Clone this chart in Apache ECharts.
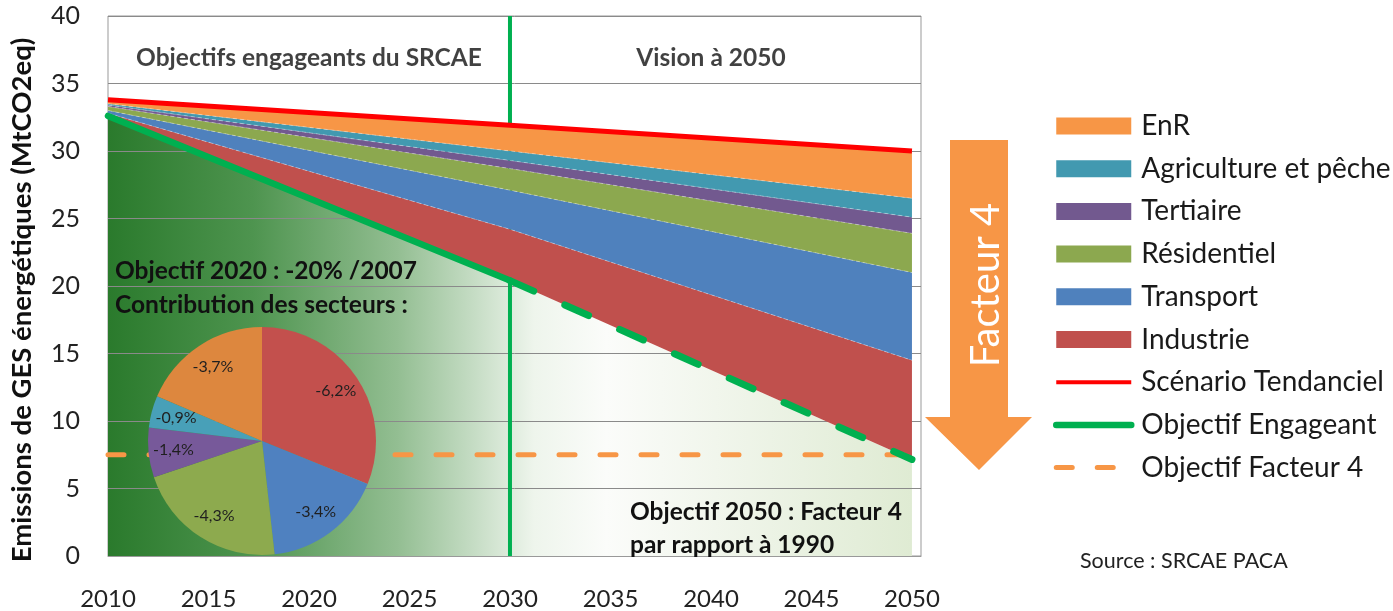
<!DOCTYPE html>
<html><head><meta charset="utf-8">
<script src="https://cdn.jsdelivr.net/npm/echarts@6/dist/echarts.min.js"></script>
<style>html,body{margin:0;padding:0;background:#fff}#c{width:1393px;height:611px}</style>
</head><body><div id="c"></div>
<script>
// ---- data ----
const years = [2010, 2030, 2050];
const objectif = [32.6, 20.4, 7.15];      // Objectif Engageant
const industrie = [0.2, 3.8, 7.35];
const transport = [0.2, 2.9, 6.5];
const residentiel = [0.3, 1.6, 2.9];
const tertiaire = [0.1, 0.6, 1.2];
const agriculture = [0.1, 0.7, 1.4];
const enr = [0.3, 1.9, 3.5];
const tendanciel = [33.8, 31.9, 30.0];    // Scénario Tendanciel
const facteur4 = [7.5, 7.5, 7.5];         // Objectif Facteur 4
const milestoneYear = 2030;
const headerNames = ['Objectifs engageants du SRCAE', 'Vision à 2050'];
const headerX = [2020, 2040];
const headerY = 36.9;
const pieNames = ['Industrie', 'Transport', 'Résidentiel', 'Tertiaire', 'Agriculture et pêche', 'EnR'];
const pieContrib = [-6.2, -3.4, -4.3, -1.4, -0.9, -3.7];

const FONT = 'Lato';
const C = {
  enr: '#F79646', agri: '#4299B0', tert: '#72598F', res: '#8CA84F',
  trans: '#4F81BD', ind: '#C0504D', red: '#FF0000', green: '#00B050', orange: '#F79646'
};
const pieColors = ['#C3504D', '#4F81C0', '#8DAA4E', '#77599A', '#48A0B8', '#DD873E'];

const pts = arr => years.map((y, i) => [y, arr[i]]);
// stacked series: value first so that the stack is computed on the y dimension
const stackPts = arr => years.map((y, i) => [arr[i], y]);
const chart = echarts.init(document.getElementById('c'));

function areaSeries(name, arr, color) {
  return {
    name, type: 'line', stack: 'ges', data: stackPts(arr), encode: { x: 1, y: 0 }, symbol: 'none', color,
    lineStyle: { width: 0.8, color: 'rgba(255,255,255,0.45)', type: [4, 3] },
    areaStyle: { color, opacity: 1 }, z: 2, silent: true
  };
}

const legendLine = w => ({ itemStyle: { opacity: 0 }, lineStyle: { width: w } });
const BOLD = { fontFamily: FONT, fontSize: 24.5, fontWeight: 'bold', fill: '#111' };

chart.setOption({
  animation: false,
  grid: { left: 108, right: 472, top: 16, bottom: 52, show: true, borderColor: '#999', borderWidth: 1, backgroundColor: '#fff' },
  xAxis: {
    type: 'value', min: 2010, max: 2050.45, interval: 5, z: 1,
    axisLine: { show: true, lineStyle: { color: '#999', width: 1 } },
    axisTick: { show: false }, splitLine: { show: false },
    axisLabel: { fontFamily: FONT, fontSize: 24, color: '#222', margin: 31, showMaxLabel: false,
      formatter: v => (v % 5 === 0 ? String(v) : '') }
  },
  yAxis: {
    type: 'value', min: 0, max: 40, interval: 5, z: 1,
    name: 'Emissions de GES énergétiques (MtCO2eq)', nameLocation: 'middle', nameGap: 72,
    nameTextStyle: { fontFamily: FONT, fontSize: 27.5, fontWeight: 'bold', color: '#111', padding: [0, 28, 0, 0] },
    axisLine: { show: false }, axisTick: { show: false },
    splitLine: { lineStyle: { color: '#8a8a8a', width: 1 } },
    axisLabel: { fontFamily: FONT, fontSize: 25, color: '#222', margin: 28 }
  },
  legend: {
    orient: 'vertical', left: 1048, top: 106, itemWidth: 75, itemHeight: 17, itemGap: 12.7,
    textStyle: { fontFamily: FONT, fontSize: 28, color: '#1a1a1a', lineHeight: 30, padding: [0, 0, 0, 5] },
    data: [
      { name: 'EnR', icon: 'rect' },
      { name: 'Agriculture et pêche', icon: 'rect' },
      { name: 'Tertiaire', icon: 'rect' },
      { name: 'Résidentiel', icon: 'rect' },
      { name: 'Transport', icon: 'rect' },
      { name: 'Industrie', icon: 'rect' },
      Object.assign({ name: 'Scénario Tendanciel' }, legendLine(4)),
      Object.assign({ name: 'Objectif Engageant' }, legendLine(6.5)),
      Object.assign({ name: 'Objectif Facteur 4' }, legendLine(5))
    ]
  },
  series: [
    {
      name: 'base', type: 'line', stack: 'ges', data: stackPts(objectif), encode: { x: 1, y: 0 },
      symbol: 'none', silent: true, z: 0,
      lineStyle: { width: 0 },
      areaStyle: {
        opacity: 1,
        color: { type: 'linear', x: 0, y: 0, x2: 1, y2: 0, colorStops: [
          { offset: 0, color: '#2a7a2c' }, { offset: 0.18, color: '#4e944f' },
          { offset: 0.36, color: '#93be92' }, { offset: 0.46, color: '#c8dec7' },
          { offset: 0.53, color: '#eef5ec' }, { offset: 0.62, color: '#fbfcfa' },
          { offset: 1, color: '#dfebd3' } ] }
      }
    },
    areaSeries('Industrie', industrie, C.ind),
    areaSeries('Transport', transport, C.trans),
    areaSeries('Résidentiel', residentiel, C.res),
    areaSeries('Tertiaire', tertiaire, C.tert),
    areaSeries('Agriculture et pêche', agriculture, C.agri),
    areaSeries('EnR', enr, C.enr),
    {
      name: 'jalon', type: 'line', data: [[milestoneYear, 0], [milestoneYear, 40]], symbol: 'none', silent: true, z: 1,
      lineStyle: { color: C.green, width: 4 }
    },
    {
      name: 'Objectif Facteur 4', type: 'line', data: pts(facteur4), symbol: 'none', silent: true, z: 2,
      color: C.orange, lineStyle: { color: C.orange, width: 5, type: [16, 25], cap: 'round' }
    },
    {
      name: 'Scénario Tendanciel', type: 'line', data: pts(tendanciel), symbol: 'none', silent: true, z: 4,
      color: C.red, lineStyle: { color: C.red, width: 5 }
    },
    {
      name: 'Objectif Engageant', type: 'line', data: pts(objectif).slice(0, 2), symbol: 'none', silent: true, z: 4,
      color: C.green, lineStyle: { color: C.green, width: 6.5, cap: 'round' }
    },
    {
      name: 'Objectif Engageant', type: 'line', data: pts(objectif).slice(1), symbol: 'none', silent: true, z: 4,
      color: C.green, lineStyle: { color: C.green, width: 7, type: [26, 34], cap: 'round' }
    },
    {
      name: 'headers', type: 'scatter', symbolSize: 0, silent: true, z: 5,
      data: headerNames.map((n, i) => ({ name: n, value: [headerX[i], headerY] })),
      label: { show: true, position: 'inside', formatter: p => p.name,
        fontFamily: FONT, fontSize: 24.5, fontWeight: 'bold', color: '#111' }
    },
    {
      name: 'contrib', type: 'pie', center: [262, 441], radius: 114, startAngle: 90, z: 3, silent: true,
      label: { show: false }, labelLine: { show: false },
      data: pieNames.map((n, i) => ({ name: n, value: Math.abs(pieContrib[i]), itemStyle: { color: pieColors[i] } }))
    },
    {
      name: 'contribLabels', type: 'pie', center: [262, 441], radius: [58, 114], startAngle: 90, z: 3.5, silent: true,
      itemStyle: { color: 'rgba(0,0,0,0)', borderWidth: 0 },
      label: { show: true, position: 'inside', fontFamily: FONT, fontSize: 16, color: '#1f1f1f',
        formatter: p => String(pieContrib[p.dataIndex]).replace('.', ',') + '%' },
      labelLine: { show: false },
      data: pieNames.map((n, i) => ({ name: n + ' ', value: Math.abs(pieContrib[i]) }))
    }
  ],
  graphic: [
    { type: 'text', left: 115, top: 259, z: 100, style: Object.assign({ text: 'Objectif 2020 : -20% /2007' }, BOLD) },
    { type: 'text', left: 115, top: 293, z: 100, style: Object.assign({ text: 'Contribution des secteurs :' }, BOLD) },
    { type: 'text', left: 630, top: 500, z: 100, style: Object.assign({ text: 'Objectif 2050 : Facteur 4' }, BOLD) },
    { type: 'text', left: 630, top: 533, z: 100, style: Object.assign({ text: 'par rapport à 1990' }, BOLD) },
    { type: 'text', left: 1080, top: 550, z: 100, style: { text: 'Source : SRCAE PACA', fontFamily: FONT, fontSize: 21.5, fill: '#222' } },
    { type: 'polygon', z: 100, shape: { points: [[950, 140], [1008, 140], [1008, 417], [1032, 417], [979, 470], [925, 417], [950, 417]] }, style: { fill: C.orange } },
    { type: 'text', x: 986, y: 285, rotation: Math.PI / 2, z: 101, style: { text: 'Facteur 4', fontFamily: FONT, fontSize: 40, fill: '#fff', align: 'center', verticalAlign: 'middle' } }
  ]
});
</script></body></html>
